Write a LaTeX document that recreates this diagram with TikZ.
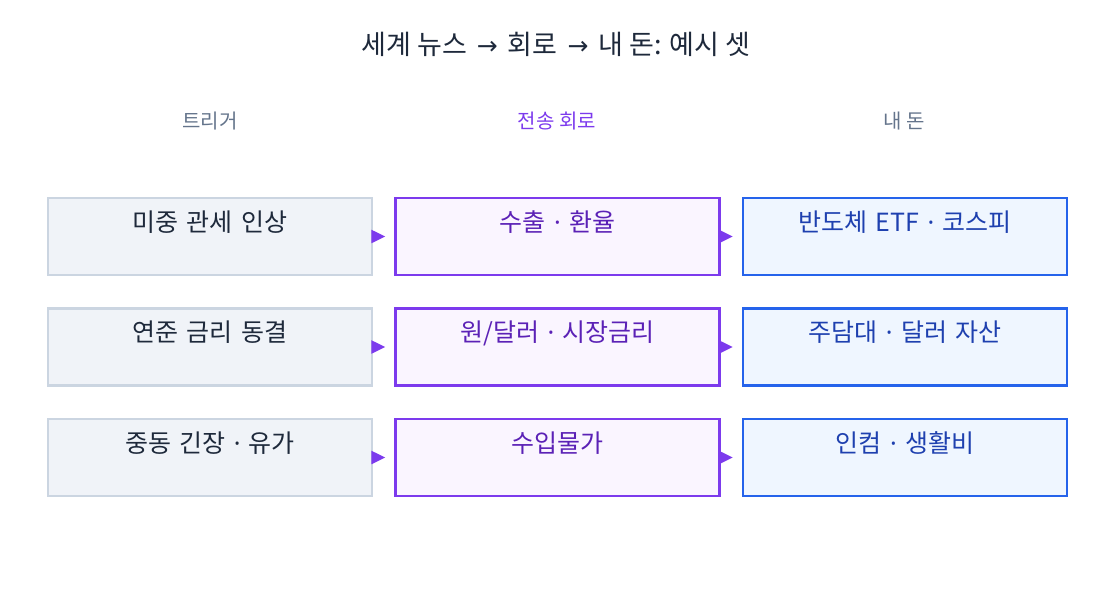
\documentclass[tikz,border=0pt]{standalone}
\usepackage{fontspec}
\setmainfont{Noto Sans CJK KR}
\newfontfamily\latinfont{Noto Sans}
\newfontfamily\symbolfont{DejaVu Sans}
\usepackage{tikz}
\usetikzlibrary{arrows.meta, positioning}
\definecolor{slateink}{HTML}{1E293B}
\definecolor{slategray}{HTML}{64748B}
\definecolor{slateline}{HTML}{CBD5E1}
\definecolor{slatefill}{HTML}{F0F3F8}
\definecolor{violetline}{HTML}{7C3AED}
\definecolor{violetfill}{HTML}{FAF5FF}
\definecolor{violetink}{HTML}{5B21B6}
\definecolor{blueline}{HTML}{2563EB}
\definecolor{bluefill}{HTML}{EFF6FF}
\definecolor{blueink}{HTML}{1E40AF}
\newcommand{\sep}{{\latinfont\ ·\ }}
\newcommand{\toarrow}{\hspace{4pt}{\symbolfont\fontsize{25}{28}\selectfont →}\hspace{4pt}}
\tikzset{
  box/.style={
    rectangle, line width=2.5pt,
    minimum width=324pt, minimum height=77pt,
    text width=310pt, align=center,
    inner xsep=0pt, inner ysep=0pt,
    text height=33pt, text depth=44pt,
    font=\fontsize{25}{28}\selectfont
  },
  trigbox/.style={box, draw=slateline, fill=slatefill, text=slateink},
  pathbox/.style={box, draw=violetline, fill=violetfill, text=violetink},
  moneybox/.style={box, draw=blueline, fill=bluefill, text=blueink},
  colhead/.style={font=\fontsize{20}{22}\selectfont, text=slategray},
  flow/.style={-{Triangle[length=14pt,width=13pt]}, line width=2.5pt,
    color=violetline, shorten >=9pt}
}
\begin{document}
\begin{tikzpicture}[x=1pt, y=-1pt, node distance=31pt and 21pt]

  \useasboundingbox (0,0) rectangle (1113,610);

  % Title and column headers
  \node[font=\fontsize{27}{30}\selectfont, text=slateink] (title) at (556,44) {세계 뉴스 \toarrow{} 회로 \toarrow{} 내 돈: 예시 셋};
  \node[colhead] (headtrig) at (210,121) {트리거};
  \node[colhead, text=violetline] (headpath) at (557,121) {전송 회로};
  \node[colhead] (headmoney) at (904,121) {내 돈};

  % Row 1
  \node[trigbox] (trigA) at (210,236.5) {미중 관세 인상};
  \node[pathbox, right=of trigA] (pathA) {수출\sep 환율};
  \node[moneybox, right=of pathA] (moneyA) {반도체 ETF\sep 코스피};

  % Row 2
  \node[trigbox, below=of trigA] (trigB) {연준 금리 동결};
  \node[pathbox, right=of trigB] (pathB) {원/달러\sep 시장금리};
  \node[moneybox, right=of pathB] (moneyB) {주담대\sep 달러 자산};

  % Row 3
  \node[trigbox, below=of trigB] (trigC) {중동 긴장\sep 유가};
  \node[pathbox, right=of trigC] (pathC) {수입물가};
  \node[moneybox, right=of pathC] (moneyC) {인컴\sep 생활비};

  % Arrows
  \draw[flow] (trigA.east) -- (pathA.west);
  \draw[flow] (pathA.east) -- (moneyA.west);
  \draw[flow] (trigB.east) -- (pathB.west);
  \draw[flow] (pathB.east) -- (moneyB.west);
  \draw[flow] (trigC.east) -- (pathC.west);
  \draw[flow] (pathC.east) -- (moneyC.west);

\end{tikzpicture}
\end{document}
